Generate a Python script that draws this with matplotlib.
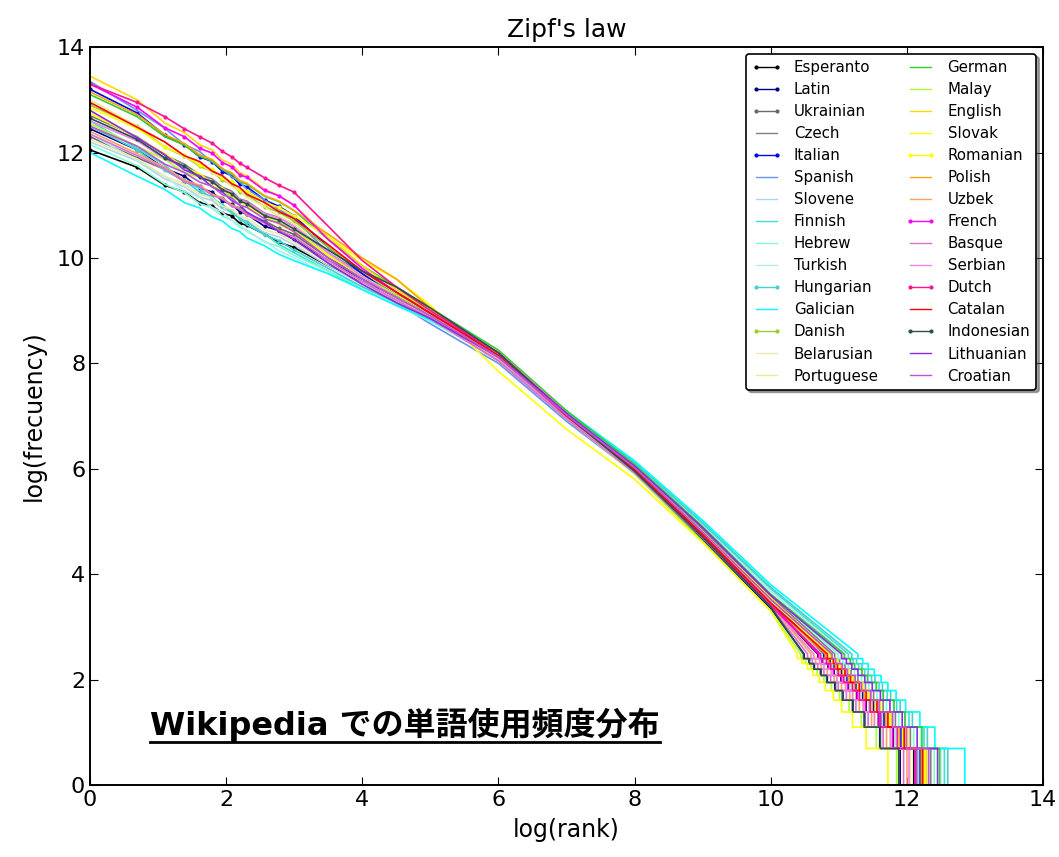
import numpy as np
import matplotlib
matplotlib.use('Agg')
import matplotlib.pyplot as plt
from matplotlib.lines import Line2D

plt.rcParams['xtick.direction'] = 'in'
plt.rcParams['ytick.direction'] = 'in'
plt.rcParams['xtick.top'] = True
plt.rcParams['ytick.right'] = True
plt.rcParams['xtick.major.size'] = 6
plt.rcParams['ytick.major.size'] = 6
plt.rcParams['xtick.labelsize'] = 16
plt.rcParams['ytick.labelsize'] = 16
plt.rcParams['font.family'] = ['DejaVu Sans']

LANGUAGES = ['Esperanto', 'Latin', 'Ukrainian', 'Czech', 'Italian', 'Spanish',
             'Slovene', 'Finnish', 'Hebrew', 'Turkish', 'Hungarian', 'Galician',
             'Danish', 'Belarusian', 'Portuguese', 'German', 'Malay', 'English',
             'Slovak', 'Romanian', 'Polish', 'Uzbek', 'French', 'Basque',
             'Serbian', 'Dutch', 'Catalan', 'Indonesian', 'Lithuanian', 'Croatian']

COLORS = ['black', 'navy', 'dimgray', 'gray', 'blue', 'cornflowerblue',
          'lightblue', 'turquoise', 'aquamarine', 'paleturquoise', 'mediumturquoise', 'cyan',
          'yellowgreen', 'palegoldenrod', 'khaki', 'limegreen', 'greenyellow', 'gold',
          'yellow', 'yellow', 'orange', 'sandybrown', 'magenta', 'orchid',
          'violet', 'deeppink', 'red', 'darkslategray', 'blueviolet', 'mediumorchid']

DOTTED = ['Esperanto', 'Latin', 'Ukrainian', 'Italian', 'Hungarian', 'Danish',
          'Romanian', 'French', 'Dutch', 'Indonesian']

# head: ranks 1..20 (log freq at each)
HEAD_RANKS = [1, 2, 3, 4, 5, 6, 7, 8, 9, 10, 13, 16, 20]
HEAD_LOGFREQ = [
    [12.05, 11.72, 11.38, 11.25, 11.05, 10.99, 10.85, 10.80, 10.66, 10.62, 10.45, 10.30, 10.20],
    [12.45, 12.05, 11.70, 11.55, 11.33, 11.25, 11.08, 11.02, 10.88, 10.83, 10.60, 10.52, 10.35],
    [12.30, 11.90, 11.68, 11.45, 11.36, 11.20, 11.14, 11.00, 10.95, 10.84, 10.70, 10.56, 10.45],
    [12.70, 12.30, 11.95, 11.78, 11.58, 11.50, 11.34, 11.27, 11.12, 11.08, 10.85, 10.77, 10.60],
    [13.20, 12.75, 12.33, 12.15, 11.92, 11.83, 11.64, 11.56, 11.40, 11.35, 11.10, 10.98, 10.80],
    [13.35, 12.80, 12.46, 12.15, 12.02, 11.82, 11.70, 11.54, 11.45, 11.30, 11.10, 10.92, 10.75],
    [12.20, 11.84, 11.50, 11.35, 11.16, 11.09, 10.93, 10.87, 10.74, 10.70, 10.48, 10.40, 10.25],
    [12.60, 12.08, 11.76, 11.45, 11.32, 11.12, 11.02, 10.85, 10.77, 10.63, 10.45, 10.26, 10.10],
    [12.15, 11.75, 11.40, 11.24, 11.03, 10.95, 10.79, 10.72, 10.58, 10.53, 10.30, 10.22, 10.05],
    [12.35, 11.85, 11.55, 11.27, 11.15, 10.96, 10.87, 10.71, 10.63, 10.50, 10.32, 10.14, 10.00],
    [12.50, 12.05, 11.66, 11.47, 11.25, 11.16, 10.98, 10.90, 10.74, 10.69, 10.44, 10.33, 10.15],
    [12.00, 11.55, 11.30, 11.05, 10.95, 10.78, 10.70, 10.56, 10.50, 10.38, 10.23, 10.07, 9.95],
    [12.90, 12.50, 12.10, 11.93, 11.74, 11.64, 11.47, 11.40, 11.25, 11.20, 10.97, 10.87, 10.70],
    [12.25, 11.88, 11.55, 11.40, 11.21, 11.14, 10.98, 10.92, 10.79, 10.75, 10.53, 10.46, 10.30],
    [13.00, 12.50, 12.20, 11.92, 11.80, 11.61, 11.52, 11.36, 11.28, 11.15, 10.97, 10.79, 10.65],
    [13.10, 12.68, 12.30, 12.14, 11.93, 11.84, 11.67, 11.60, 11.45, 11.40, 11.17, 11.07, 10.90],
    [12.55, 12.12, 11.87, 11.62, 11.53, 11.36, 11.29, 11.15, 11.09, 10.97, 10.82, 10.67, 10.55],
    [13.45, 13.00, 12.56, 12.38, 12.15, 12.05, 11.86, 11.78, 11.62, 11.56, 11.30, 11.19, 11.00],
    [12.75, 12.28, 11.98, 11.71, 11.60, 11.42, 11.33, 11.18, 11.11, 10.98, 10.80, 10.64, 10.50],
    [12.85, 12.46, 12.10, 11.95, 11.76, 11.68, 11.52, 11.46, 11.31, 11.27, 11.05, 10.96, 10.80],
    [13.15, 12.72, 12.34, 12.17, 11.96, 11.87, 11.69, 11.62, 11.47, 11.42, 11.18, 11.08, 10.90],
    [12.40, 11.98, 11.72, 11.48, 11.38, 11.21, 11.14, 11.00, 10.94, 10.82, 10.67, 10.52, 10.40],
    [13.30, 12.86, 12.47, 12.30, 12.08, 11.99, 11.81, 11.73, 11.58, 11.53, 11.28, 11.18, 11.00],
    [12.35, 11.94, 11.69, 11.45, 11.36, 11.19, 11.12, 10.98, 10.93, 10.81, 10.66, 10.52, 10.40],
    [12.60, 12.22, 11.88, 11.72, 11.54, 11.46, 11.30, 11.24, 11.10, 11.06, 10.84, 10.76, 10.60],
    [13.30, 12.95, 12.68, 12.45, 12.30, 12.18, 12.02, 11.92, 11.80, 11.72, 11.52, 11.38, 11.25],
    [12.95, 12.48, 12.20, 11.94, 11.83, 11.65, 11.56, 11.41, 11.34, 11.21, 11.05, 10.88, 10.75],
    [12.65, 12.25, 11.90, 11.74, 11.53, 11.45, 11.29, 11.22, 11.08, 11.03, 10.80, 10.72, 10.55],
    [12.80, 12.28, 11.96, 11.67, 11.55, 11.35, 11.25, 11.09, 11.01, 10.87, 10.68, 10.50, 10.35],
    [12.50, 12.12, 11.78, 11.62, 11.44, 11.36, 11.20, 11.14, 11.00, 10.96, 10.74, 10.66, 10.50],
]

# middle part, read at these log(rank) positions
MID_LOGRANK = [3.5, 4.0, 4.5, 5.0, 6.0, 7.0, 8.0, 9.0, 10.0]
MID_LOGFREQ = [
    [9.85, 9.55, 9.30, 8.95, 8.15, 7.00, 5.98, 4.72, 3.42],
    [9.95, 9.60, 9.25, 8.90, 8.10, 6.95, 5.92, 4.65, 3.35],
    [10.00, 9.65, 9.30, 8.95, 8.15, 7.00, 6.00, 4.78, 3.50],
    [10.10, 9.70, 9.30, 8.95, 8.20, 7.05, 6.05, 4.85, 3.58],
    [10.20, 9.70, 9.25, 8.85, 8.05, 6.95, 5.95, 4.75, 3.50],
    [10.10, 9.60, 9.15, 8.75, 8.00, 6.90, 5.92, 4.72, 3.45],
    [9.85, 9.50, 9.20, 8.85, 8.05, 6.95, 5.95, 4.75, 3.48],
    [9.75, 9.40, 9.10, 8.80, 8.10, 7.05, 6.10, 4.95, 3.72],
    [9.75, 9.45, 9.15, 8.85, 8.10, 7.00, 6.05, 4.88, 3.62],
    [9.70, 9.40, 9.10, 8.80, 8.10, 7.05, 6.08, 4.92, 3.68],
    [9.80, 9.45, 9.15, 8.85, 8.15, 7.08, 6.12, 4.98, 3.75],
    [9.70, 9.40, 9.10, 8.82, 8.12, 7.10, 6.15, 5.02, 3.80],
    [10.20, 9.75, 9.35, 9.00, 8.20, 7.05, 6.02, 4.80, 3.52],
    [9.90, 9.55, 9.20, 8.90, 8.10, 7.00, 6.00, 4.78, 3.50],
    [10.10, 9.65, 9.25, 8.90, 8.08, 6.95, 5.93, 4.70, 3.42],
    [10.35, 9.85, 9.45, 9.05, 8.25, 7.10, 6.08, 4.90, 3.62],
    [10.05, 9.65, 9.30, 8.95, 8.10, 6.95, 5.90, 4.62, 3.30],
    [10.40, 9.85, 9.40, 9.00, 8.20, 7.05, 6.02, 4.80, 3.55],
    [10.05, 9.65, 9.25, 8.90, 8.10, 7.00, 6.00, 4.80, 3.52],
    [10.40, 9.95, 9.60, 9.10, 7.85, 6.75, 5.80, 4.60, 3.30],
    [10.45, 10.00, 9.60, 9.05, 8.15, 7.00, 6.00, 4.75, 3.45],
    [9.95, 9.55, 9.20, 8.85, 8.05, 6.95, 5.95, 4.72, 3.42],
    [10.35, 9.80, 9.35, 8.95, 8.20, 7.05, 6.00, 4.75, 3.45],
    [9.95, 9.55, 9.20, 8.85, 8.05, 6.95, 5.92, 4.68, 3.38],
    [10.10, 9.65, 9.25, 8.90, 8.10, 6.98, 5.95, 4.72, 3.43],
    [10.60, 9.95, 9.45, 9.00, 8.20, 7.02, 5.98, 4.72, 3.40],
    [10.25, 9.75, 9.35, 8.95, 8.15, 7.00, 5.98, 4.75, 3.45],
    [10.15, 9.75, 9.45, 9.05, 8.20, 7.02, 5.95, 4.70, 3.38],
    [9.90, 9.50, 9.15, 8.85, 8.12, 7.05, 6.05, 4.88, 3.60],
    [10.00, 9.60, 9.25, 8.90, 8.12, 7.02, 6.02, 4.80, 3.52],
]

# tail: log(last rank) having frequency 1, 2, ..., 12
TAIL_FREQ = [1, 2, 3, 4, 5, 6, 7, 8, 9, 10, 11, 12]
TAIL_LOGRANK = [
    [12.60, 12.10, 11.80, 11.58, 11.40, 11.26, 11.14, 11.03, 10.93, 10.84, 10.76, 10.69],
    [12.40, 11.90, 11.60, 11.38, 11.20, 11.06, 10.94, 10.83, 10.73, 10.64, 10.56, 10.49],
    [12.70, 12.20, 11.90, 11.68, 11.50, 11.36, 11.24, 11.13, 11.03, 10.94, 10.86, 10.79],
    [12.85, 12.35, 12.05, 11.83, 11.65, 11.51, 11.39, 11.28, 11.18, 11.09, 11.01, 10.94],
    [12.72, 12.18, 11.91, 11.66, 11.51, 11.35, 11.25, 11.12, 11.04, 10.93, 10.87, 10.78],
    [12.65, 12.15, 11.85, 11.63, 11.45, 11.31, 11.19, 11.08, 10.98, 10.89, 10.81, 10.74],
    [12.62, 12.17, 11.84, 11.64, 11.44, 11.32, 11.18, 11.09, 10.97, 10.90, 10.80, 10.75],
    [13.05, 12.55, 12.25, 12.03, 11.85, 11.71, 11.59, 11.48, 11.38, 11.29, 11.21, 11.14],
    [12.90, 12.40, 12.10, 11.88, 11.70, 11.56, 11.44, 11.33, 11.23, 11.14, 11.06, 10.99],
    [13.00, 12.50, 12.20, 11.98, 11.80, 11.66, 11.54, 11.43, 11.33, 11.24, 11.16, 11.09],
    [13.10, 12.60, 12.30, 12.08, 11.90, 11.76, 11.64, 11.53, 11.43, 11.34, 11.26, 11.19],
    [13.25, 12.85, 12.41, 12.19, 11.98, 11.84, 11.72, 11.62, 11.52, 11.43, 11.35, 11.28],
    [12.75, 12.25, 11.95, 11.73, 11.55, 11.41, 11.29, 11.18, 11.08, 10.99, 10.91, 10.84],
    [12.80, 12.30, 12.00, 11.78, 11.60, 11.46, 11.34, 11.23, 11.13, 11.04, 10.96, 10.89],
    [12.55, 12.05, 11.75, 11.53, 11.35, 11.21, 11.09, 10.98, 10.88, 10.79, 10.71, 10.64],
    [12.98, 12.48, 12.22, 11.97, 11.81, 11.65, 11.55, 11.42, 11.34, 11.23, 11.17, 11.08],
    [12.35, 11.85, 11.55, 11.33, 11.15, 11.01, 10.89, 10.78, 10.68, 10.59, 10.51, 10.44],
    [12.82, 12.28, 12.01, 11.77, 11.61, 11.45, 11.35, 11.22, 11.14, 11.03, 10.97, 10.88],
    [12.73, 12.26, 11.94, 11.74, 11.54, 11.42, 11.28, 11.19, 11.07, 11.00, 10.90, 10.85],
    [12.22, 11.72, 11.40, 11.20, 11.04, 10.92, 10.80, 10.71, 10.62, 10.54, 10.46, 10.39],
    [12.68, 12.22, 11.89, 11.69, 11.49, 11.37, 11.23, 11.14, 11.02, 10.95, 10.85, 10.80],
    [12.50, 12.00, 11.70, 11.48, 11.30, 11.16, 11.04, 10.93, 10.83, 10.74, 10.66, 10.59],
    [12.58, 12.12, 11.79, 11.59, 11.39, 11.27, 11.13, 11.04, 10.92, 10.85, 10.75, 10.70],
    [12.45, 11.95, 11.65, 11.43, 11.25, 11.11, 10.99, 10.88, 10.78, 10.69, 10.61, 10.54],
    [12.57, 12.03, 11.76, 11.52, 11.36, 11.20, 11.10, 10.97, 10.89, 10.78, 10.72, 10.63],
    [12.66, 12.13, 11.86, 11.61, 11.46, 11.30, 11.20, 11.07, 10.99, 10.88, 10.82, 10.73],
    [12.76, 12.23, 11.96, 11.72, 11.56, 11.40, 11.30, 11.17, 11.09, 10.98, 10.92, 10.83],
    [12.42, 11.88, 11.61, 11.37, 11.21, 11.05, 10.95, 10.82, 10.74, 10.63, 10.57, 10.48],
    [12.95, 12.45, 12.15, 11.93, 11.75, 11.61, 11.49, 11.38, 11.28, 11.19, 11.11, 11.04],
    [12.78, 12.32, 11.99, 11.79, 11.59, 11.47, 11.33, 11.24, 11.12, 11.05, 10.95, 10.90],
]

fig = plt.figure(figsize=(10.59, 8.57), dpi=100)
ax = fig.add_axes([0.085, 0.084, 0.900, 0.861])

nhead = len(HEAD_RANKS)
for i, name in enumerate(LANGUAGES):
    tx = TAIL_LOGRANK[i]
    xs = list(np.log(HEAD_RANKS)) + list(MID_LOGRANK) + [tx[-1]]
    ys = list(HEAD_LOGFREQ[i]) + list(MID_LOGFREQ[i]) + [np.log(TAIL_FREQ[-1])]
    # staircase of the low-frequency tail
    for k in range(len(TAIL_FREQ) - 2, -1, -1):
        xs += [tx[k + 1], tx[k]]
        ys += [np.log(TAIL_FREQ[k])] * 2
    if name in DOTTED:
        ax.plot(xs, ys, color=COLORS[i], lw=1.2, marker='.', ms=4,
                markevery=slice(0, nhead), label=name)
    else:
        ax.plot(xs, ys, color=COLORS[i], lw=1.2, label=name)

ax.set_xlim(0, 14)
ax.set_ylim(0, 14)
ax.set_xticks(range(0, 15, 2))
ax.set_yticks(range(0, 15, 2))
for sp in ax.spines.values():
    sp.set_linewidth(1.4)

ax.set_title("Zipf's law", fontsize=18, pad=7)
ax.set_xlabel('log(rank)', fontsize=17, labelpad=6)
ax.set_ylabel('log(frecuency)', fontsize=17, labelpad=8)

leg = ax.legend(loc='upper right', ncol=2, fontsize=10.8, shadow=True,
                fancybox=True, framealpha=1, edgecolor='black',
                numpoints=2, labelspacing=0.47, columnspacing=1.8,
                borderaxespad=0.45)
leg.get_frame().set_linewidth(1.2)
for h in leg.get_lines():
    h.set_linewidth(1.0)

txt = ax.text(0.88, 0.95, 'Wikipedia での単語使用頻度分布', fontsize=23,
              fontweight='bold', family=['DejaVu Sans', 'Noto Sans CJK JP'],
              ha='left', va='baseline')

# underline for the caption
fig.canvas.draw()
bb = txt.get_window_extent(fig.canvas.get_renderer())
base = ax.transData.transform((0.88, 0.95))[1]
inv = fig.transFigure.inverted()
p0 = inv.transform((bb.x0, base - 7))
p1 = inv.transform((bb.x1, base - 7))
fig.add_artist(Line2D([p0[0], p1[0]], [p0[1], p1[1]], color='black', lw=2,
                      transform=fig.transFigure))

plt.savefig('out.png', dpi=100)
